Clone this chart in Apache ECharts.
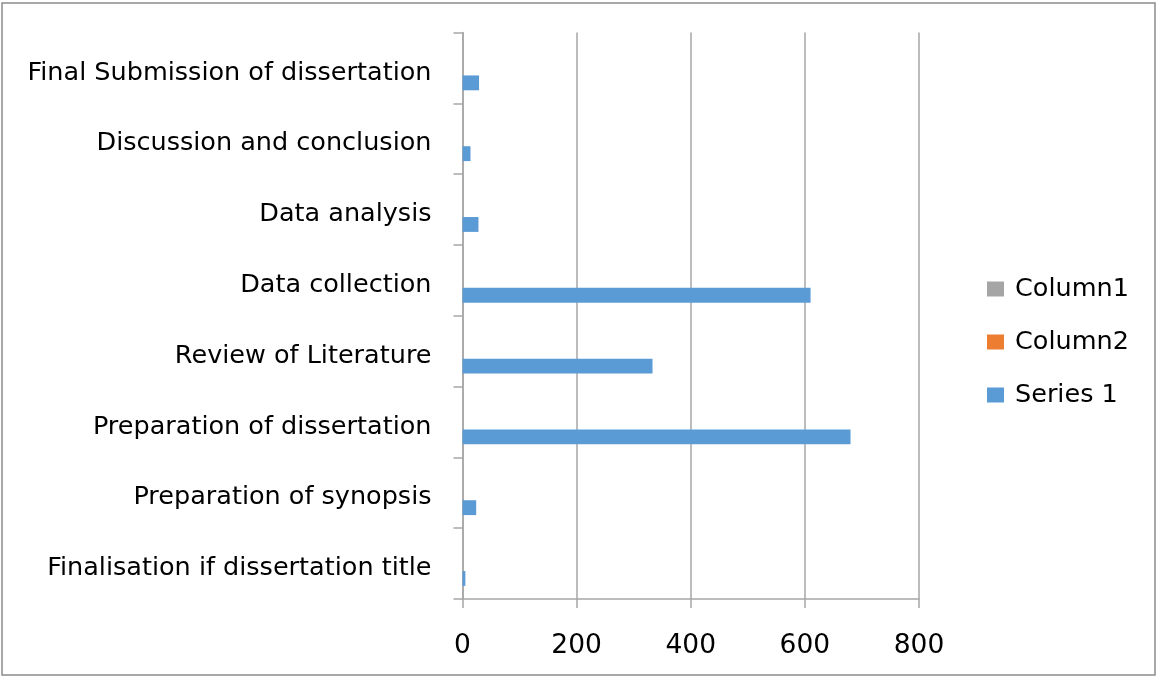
<!DOCTYPE html>
<html>
<head>
<meta charset="utf-8">
<script src="https://cdn.jsdelivr.net/npm/echarts@6/dist/echarts.min.js"></script>
<style>
html,body{margin:0;padding:0;background:#fff;}
#c{width:1157px;height:677px;}
</style>
</head>
<body>
<div id="c"></div>
<script>
var categories = [
  'Finalisation if dissertation title',
  'Preparation of synopsis',
  'Preparation of dissertation',
  'Review of Literature',
  'Data collection',
  'Data analysis',
  'Discussion and conclusion',
  'Final Submission of dissertation'
];
var column1Values = ['-', '-', '-', '-', '-', '-', '-', '-'];
var column2Values = ['-', '-', '-', '-', '-', '-', '-', '-'];
var series1Values = [5, 24, 680, 333, 610, 28, 14, 29];
var xTicks = [0, 200, 400, 600, 800];

var FONT = 'DejaVu Sans';
var chart = echarts.init(document.getElementById('c'));
chart.setOption({
  animation: false,
  backgroundColor: '#fff',
  textStyle: { fontFamily: FONT },
  graphic: [{
    type: 'rect',
    shape: { x: 2, y: 3, width: 1153, height: 672 },
    style: { fill: 'none', stroke: '#8c8c8c', lineWidth: 1.5 },
    silent: true
  }],
  grid: { left: 462.5, right: 238, top: 32.6, bottom: 78, containLabel: false },
  legend: {
    orient: 'vertical',
    left: 987,
    top: 274,
    padding: 0,
    itemWidth: 17,
    itemHeight: 15,
    itemGap: 23,
    icon: 'rect',
    data: ['Column1', 'Column2', 'Series 1'],
    textStyle: { fontFamily: FONT, fontSize: 25.5, color: '#000', padding: [0, 0, 0, 6], lineHeight: 30 }
  },
  xAxis: {
    type: 'value',
    min: xTicks[0],
    max: xTicks[xTicks.length - 1],
    interval: 200,
    axisLine: { show: true, lineStyle: { color: '#a6a6a6', width: 1.5 } },
    axisTick: { show: true, length: 9, lineStyle: { color: '#a6a6a6', width: 1.5 } },
    axisLabel: { fontFamily: FONT, fontSize: 26.5, color: '#000', margin: 34 },
    splitLine: { show: true, lineStyle: { color: '#a6a6a6', width: 1.5 } }
  },
  yAxis: {
    type: 'category',
    data: categories,
    axisLine: { show: true, lineStyle: { color: '#a6a6a6', width: 1.5 } },
    axisTick: { show: true, length: 9, lineStyle: { color: '#a6a6a6', width: 1.5 } },
    axisLabel: {
      fontFamily: FONT, fontSize: 25.5, color: '#000', margin: 31,
      formatter: function (v) { return '{a|' + v + '}'; },
      rich: { a: { fontFamily: FONT, fontSize: 25.5, color: '#000', padding: [10, 0, 0, 0] } }
    },
    splitLine: { show: false }
  },
  series: [
    { name: 'Column1', type: 'bar', data: column1Values, itemStyle: { color: '#a5a5a5' }, barGap: '0%', barCategoryGap: '37%' },
    { name: 'Column2', type: 'bar', data: column2Values, itemStyle: { color: '#ed7d31' }, barGap: '0%', barCategoryGap: '37%' },
    { name: 'Series 1', type: 'bar', data: series1Values, itemStyle: { color: '#5b9bd5' }, barGap: '0%', barCategoryGap: '37%' }
  ]
});
</script>
</body>
</html>
